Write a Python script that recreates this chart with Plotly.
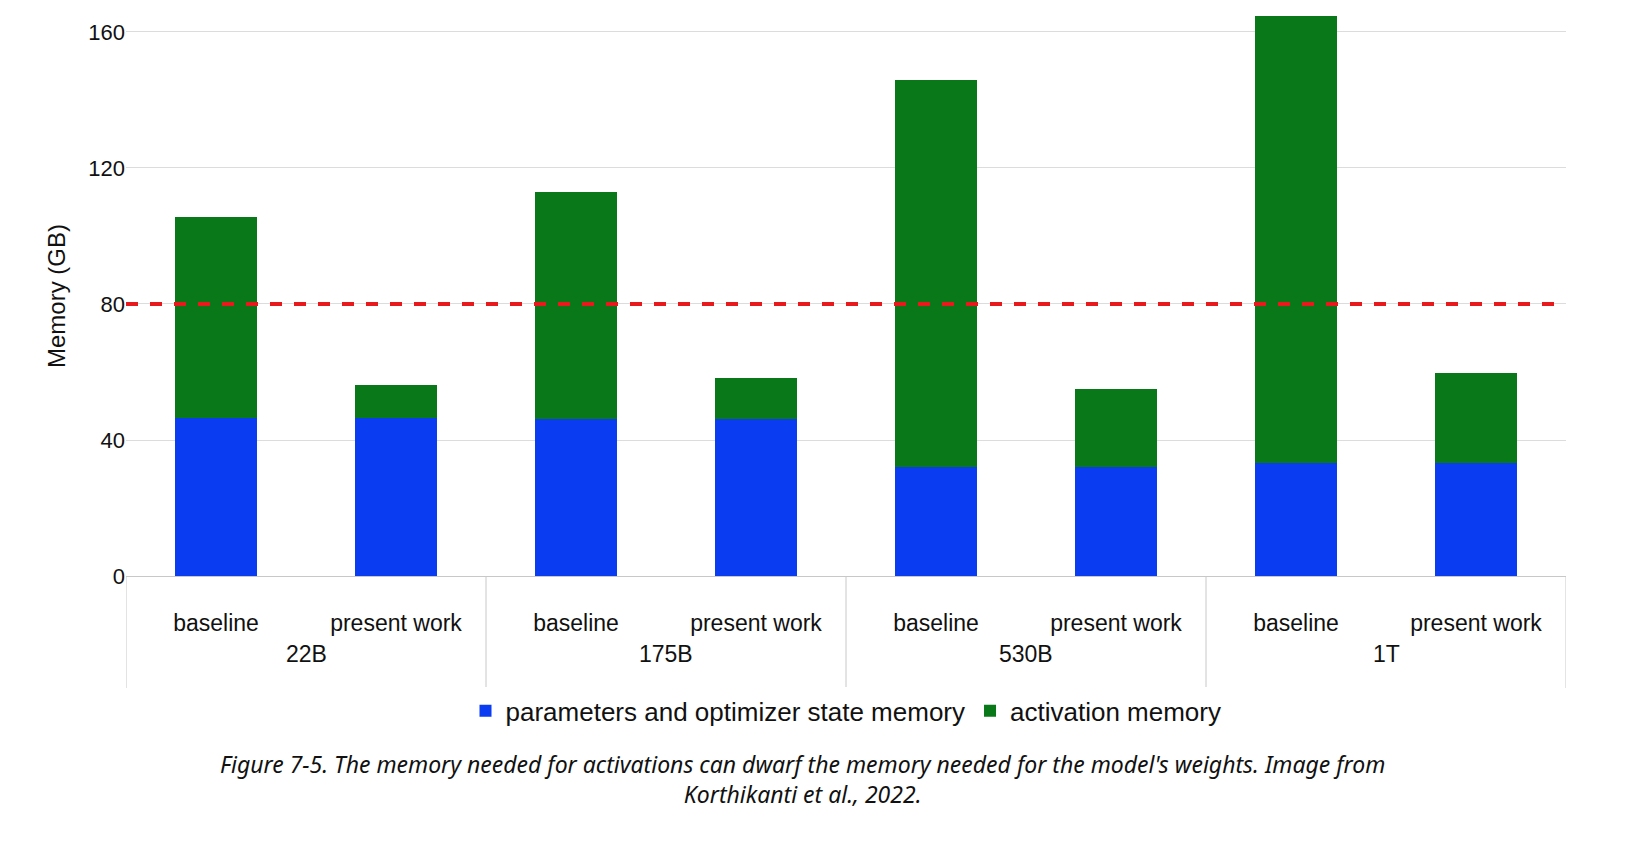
import plotly.graph_objects as go

groups = ["22B", "175B", "530B", "1T"]
models = ["22B", "22B", "175B", "175B", "530B", "530B", "1T", "1T"]
runs = ["baseline", "present work"] * 4
params_mem = [46.5, 46.5, 46.2, 46.2, 32.0, 32.0, 33.2, 33.2]
activation_mem = [59.1, 9.7, 66.8, 12.0, 113.9, 23.0, 131.4, 26.5]
limit_gb = 80

xs = list(range(len(runs)))

fig = go.Figure()
fig.add_bar(x=xs, y=params_mem, name="parameters and optimizer state memory",
            marker_color="#0a3cf2", marker_line_width=0)
fig.add_bar(x=xs, y=activation_mem, name="activation memory",
            marker_color="#087818", marker_line_width=0)
fig.add_hline(y=limit_gb, line_dash="dash", line_color="#e8191c", line_width=4)

# group dividers and group labels below the tick labels
for b in [-0.5, 1.5, 3.5, 5.5, 7.5]:
    fig.add_shape(type="line", xref="x", yref="paper", x0=b, x1=b, y0=0, y1=-0.2,
                  line=dict(color="#c8c8c8", width=1))
annots = []
for i, g in enumerate(groups):
    annots.append(dict(text=g, xref="x", yref="paper", x=2 * i + 0.5, y=-0.166,
                       showarrow=False, font=dict(size=23, color="#111")))
annots.append(dict(
    text="<i>Figure 7-5. The memory needed for activations can dwarf the memory needed for the model's weights. Image from<br>Korthikanti et al., 2022.</i>",
    xref="paper", yref="paper", x=0.47, y=-0.3625, yanchor="middle", showarrow=False,
    font=dict(family="Noto Sans, Open Sans", size=23, color="#111")))

fig.update_layout(
    barmode="stack", bargap=0.54, template="plotly_white",
    width=1633, height=844, paper_bgcolor="white", plot_bgcolor="white",
    margin=dict(l=118, r=75, t=8, b=276),
    font=dict(family="Liberation Sans, Arial", size=22, color="#111"),
    legend=dict(orientation="h", x=0.5, xanchor="center", y=-0.241, yanchor="middle",
                traceorder="normal", font=dict(size=26), itemwidth=30),
    annotations=annots,
)
fig.update_yaxes(range=[0, 164.7], tickvals=[0, 40, 80, 120, 160], gridcolor="#dcdcdc",
                 title=dict(text="Memory (GB)", font=dict(size=24)), zeroline=False,
                 tickfont=dict(size=22))
fig.update_xaxes(range=[-0.5, 7.5], tickvals=xs, ticktext=runs, showline=True,
                 linecolor="#c8c8c8", showgrid=False, tickfont=dict(size=23),
                 ticklabelstandoff=26)
fig.write_html("out.html")
